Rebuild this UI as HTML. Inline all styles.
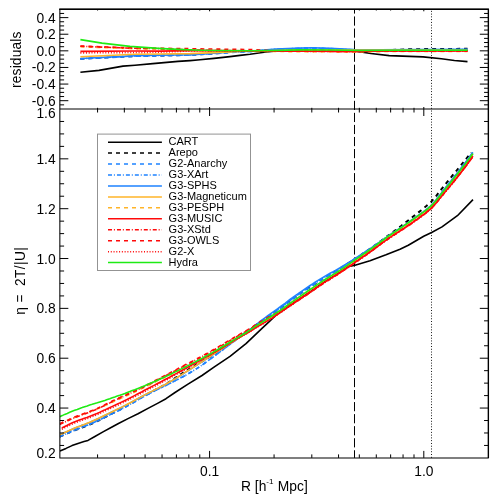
<!DOCTYPE html>
<html><head><meta charset="utf-8"><title>chart</title>
<style>
html,body{margin:0;padding:0;background:#fff;}
body{width:498px;height:498px;overflow:hidden;position:relative;font-family:"Liberation Sans",sans-serif;}
svg text{font-family:"Liberation Sans",sans-serif;}
svg{will-change:opacity;}
</style></head><body>
<svg width="498" height="498" viewBox="0 0 498 498" style="position:absolute;left:0;top:0">
<defs><clipPath id="cm"><rect x="59.9" y="109.0" width="428.4" height="348.9"/></clipPath>
<clipPath id="cr"><rect x="59.9" y="9.3" width="428.4" height="99.7"/></clipPath></defs>
<path d="M354.5 9.3 V457.9" stroke="#000" stroke-width="1.0" stroke-dasharray="9.2 2.85" stroke-dashoffset="4.9" fill="none"/>
<path d="M431.5 9.3 V457.9" stroke="#000" stroke-width="1" stroke-dasharray="0.9 1.87" stroke-dashoffset="1.2" fill="none"/>
<g clip-path="url(#cr)">
<path d="M80.4 72.2 L99.0 70.4 L123.0 66.1 L135.0 65.2 L152.8 63.6 L178.0 61.4 L190.0 60.6 L200.0 59.8 L214.0 58.4 L230.0 56.6 L240.0 55.4 L250.0 54.3 L264.0 52.2 L276.0 50.9 L300.0 50.6 L354.0 50.9 L370.9 53.5 L389.2 55.6 L423.1 56.9 L441.4 58.7 L454.4 60.5 L467.5 61.6" fill="none" stroke="#000" stroke-width="1.6" stroke-linejoin="round"/>
<path d="M80.4 58.9 L135.0 56.2 L160.0 55.7 L190.0 55.1 L214.0 53.6 L235.0 52.0 L250.0 51.2 L276.0 50.0 L300.0 49.6 L354.0 50.0 L390.0 49.9 L410.0 49.0 L467.5 48.6" fill="none" stroke="#000" stroke-width="1.6" stroke-dasharray="4 4" stroke-linejoin="round"/>
<path d="M80.4 59.0 L135.0 56.3 L160.0 55.8 L190.0 55.2 L214.0 53.7 L235.0 52.3 L250.0 51.7 L264.0 50.6 L276.0 49.6 L300.0 48.6 L312.0 48.2 L330.0 48.9 L354.0 50.1 L380.0 50.3 L420.0 50.1 L467.5 49.9" fill="none" stroke="#1e82ff" stroke-width="1.6" stroke-dasharray="4 4" stroke-linejoin="round"/>
<path d="M80.4 58.7 L135.0 56.0 L160.0 55.5 L190.0 54.9 L214.0 53.4 L235.0 52.0 L250.0 51.4 L264.0 50.3 L276.0 49.3 L300.0 48.3 L312.0 47.9 L330.0 48.6 L354.0 49.8 L380.0 50.0 L420.0 49.8 L467.5 49.6" fill="none" stroke="#1e82ff" stroke-width="1.6" stroke-dasharray="4 1.9 1 2.05" stroke-linejoin="round"/>
<path d="M80.4 58.5 L135.0 55.8 L160.0 55.3 L190.0 54.7 L214.0 53.2 L235.0 51.8 L250.0 51.2 L264.0 50.1 L276.0 49.1 L300.0 48.1 L312.0 47.7 L330.0 48.4 L354.0 49.6 L380.0 49.8 L420.0 49.6 L467.5 49.4" fill="none" stroke="#1e82ff" stroke-width="1.6" stroke-linejoin="round"/>
<path d="M80.4 56.7 L135.0 54.3 L160.0 54.0 L190.0 53.6 L214.0 52.6 L235.0 51.6 L250.0 51.0 L276.0 50.6 L300.0 50.0 L467.5 50.3" fill="none" stroke="#ffb428" stroke-width="1.6" stroke-linejoin="round"/>
<path d="M80.4 46.8 L135.0 48.8 L160.0 49.1 L185.0 50.2 L214.0 51.0 L250.0 51.3 L276.0 51.5 L300.0 51.7 L354.0 51.9 L400.0 51.4 L467.5 51.4" fill="none" stroke="#ffb428" stroke-width="1.6" stroke-dasharray="4 4" stroke-linejoin="round"/>
<path d="M80.4 51.4 L135.0 51.0 L160.0 51.1 L190.0 50.6 L214.0 50.6 L250.0 50.8 L276.0 51.0 L300.0 51.2 L354.0 51.4 L400.0 50.9 L467.5 50.9" fill="none" stroke="#ff0a0a" stroke-width="1.6" stroke-linejoin="round"/>
<path d="M80.4 46.3 L135.0 48.3 L160.0 48.6 L185.0 49.7 L214.0 50.5 L250.0 50.8 L276.0 51.0 L300.0 51.2 L354.0 51.4 L400.0 50.9 L467.5 50.9" fill="none" stroke="#ff0a0a" stroke-width="1.6" stroke-dasharray="4 1.9 1 2.05" stroke-linejoin="round"/>
<path d="M80.4 46.0 L135.0 48.0 L178.0 48.5 L214.0 49.1 L250.0 49.5 L276.0 51.0 L300.0 51.2 L354.0 51.4 L400.0 50.9 L467.5 50.9" fill="none" stroke="#ff0a0a" stroke-width="1.6" stroke-dasharray="4 4" stroke-linejoin="round"/>
<path d="M80.4 52.9 L135.0 52.5 L160.0 52.2 L180.0 51.4 L200.0 50.8 L250.0 51.0 L276.0 51.1 L300.0 51.3 L354.0 51.5 L400.0 51.0 L467.5 51.0" fill="none" stroke="#ff0a0a" stroke-width="1.6" stroke-dasharray="1 1.77" stroke-linejoin="round"/>
<path d="M80.4 39.6 L102.0 43.1 L130.0 46.4 L158.0 48.4 L178.0 49.4 L200.0 50.2 L214.0 50.5 L250.0 50.8 L276.0 50.5 L300.0 49.9 L330.0 50.0 L360.0 50.5 L400.0 50.2 L467.5 50.2" fill="none" stroke="#1eeb14" stroke-width="1.6" stroke-linejoin="round"/>
</g>
<g clip-path="url(#cm)">
<path d="M59.9 451.0 L66.0 448.4 L72.0 445.6 L78.0 443.4 L84.0 441.5 L88.0 440.4 L94.0 437.0 L103.0 431.9 L112.0 427.0 L118.0 423.8 L128.0 418.6 L138.0 413.8 L148.0 408.4 L158.0 403.1 L166.0 398.7 L175.0 392.5 L188.0 384.1 L202.0 375.5 L214.0 367.2 L230.0 356.4 L246.0 343.7 L262.0 328.4 L270.0 320.9 L276.0 315.2 L292.0 304.0 L310.0 292.0 L325.0 281.4 L340.0 271.9 L348.0 266.6 L355.0 265.2 L370.0 260.7 L386.0 254.8 L400.0 249.2 L408.3 245.2 L423.7 236.2 L431.6 232.5 L442.0 226.9 L457.4 215.7 L473.0 199.6" fill="none" stroke="#000" stroke-width="1.6" stroke-linejoin="round"/>
<path d="M59.7 436.6 L62.2 435.5 L64.7 434.4 L67.2 433.3 L69.7 432.3 L72.2 431.3 L74.7 430.3 L77.2 429.4 L79.7 428.4 L82.1 427.5 L84.6 426.6 L87.1 425.6 L89.6 424.6 L92.1 423.5 L94.6 422.4 L97.1 421.2 L99.6 420.0 L102.1 418.7 L104.6 417.4 L107.1 416.1 L109.6 414.8 L112.1 413.5 L114.6 412.2 L117.1 410.9 L119.6 409.6 L122.0 408.3 L124.5 406.9 L127.0 405.5 L129.5 404.1 L132.0 402.7 L134.5 401.3 L137.0 399.9 L139.5 398.4 L142.0 397.0 L144.5 395.6 L147.0 394.3 L149.5 392.9 L152.0 391.6 L154.5 390.3 L157.0 389.0 L159.5 387.7 L162.0 386.3 L164.4 384.9 L166.9 383.4 L169.4 381.9 L171.9 380.3 L174.4 378.6 L176.9 376.9 L179.4 375.3 L181.9 373.6 L184.4 372.0 L186.9 370.4 L189.4 368.9 L191.9 367.4 L194.4 365.9 L196.9 364.4 L199.4 363.0 L201.9 361.5 L204.3 360.1 L206.8 358.6 L209.3 357.1 L211.8 355.5 L214.3 354.0 L216.8 352.4 L219.3 350.7 L221.8 349.1 L224.3 347.4 L226.8 345.7 L229.3 343.9 L231.8 342.2 L234.3 340.4 L236.8 338.7 L239.3 337.0 L241.8 335.3 L244.3 333.6 L246.7 331.9 L249.2 330.2 L251.7 328.3 L254.2 326.4 L256.7 324.6 L259.2 322.8 L261.7 321.1 L264.2 319.4 L266.7 317.6 L269.2 315.9 L271.7 314.2 L274.2 312.4 L276.7 310.7 L279.2 308.9 L281.7 307.1 L284.2 305.3 L286.6 303.4 L289.1 301.6 L291.6 299.8 L294.1 298.0 L296.6 296.2 L299.1 294.5 L301.6 292.7 L304.1 291.0 L306.6 289.3 L309.1 287.6 L311.6 286.0 L314.1 284.4 L316.6 282.7 L319.1 281.1 L321.6 279.6 L324.1 278.0 L326.6 276.5 L329.0 275.0 L331.5 273.5 L334.0 272.1 L336.5 270.7 L339.0 269.2 L341.5 267.6 L344.0 266.0 L346.5 264.4 L349.0 262.8 L351.5 261.1 L354.0 259.5 L356.5 257.8 L359.0 256.2 L361.5 254.5 L364.0 252.9 L366.5 251.2 L368.9 249.6 L371.4 247.8 L373.9 246.1 L376.4 244.3 L378.9 242.4 L381.4 240.6 L383.9 238.7 L386.4 236.9 L388.9 235.1 L391.4 233.2 L393.9 231.4 L396.4 229.5 L398.9 227.6 L401.4 225.7 L403.9 223.7 L406.4 221.8 L408.9 219.9 L411.3 218.0 L413.8 216.0 L416.3 214.0 L418.8 212.1 L421.3 210.2 L423.8 208.2 L426.3 206.1 L428.8 203.9 L431.3 201.6 L433.8 198.9 L436.3 195.8 L438.8 192.6 L441.3 189.4 L443.8 186.3 L446.3 183.2 L448.8 180.1 L451.2 177.1 L453.7 174.0 L456.2 171.0 L458.7 167.9 L461.2 164.9 L463.7 161.9 L466.2 158.8 L468.7 155.7 L471.2 152.5" fill="none" stroke="#000" stroke-width="1.95" stroke-dasharray="4 4" stroke-linejoin="round"/>
<path d="M59.7 436.6 L62.2 435.5 L64.7 434.5 L67.2 433.4 L69.7 432.3 L72.2 431.3 L74.7 430.3 L77.2 429.2 L79.7 428.3 L82.2 427.3 L84.7 426.3 L87.2 425.3 L89.7 424.3 L92.2 423.2 L94.8 422.1 L97.3 421.0 L99.8 419.8 L102.3 418.5 L104.8 417.3 L107.3 416.1 L109.8 414.9 L112.3 413.6 L114.8 412.4 L117.3 411.2 L119.8 410.0 L122.3 408.7 L124.8 407.4 L127.3 406.0 L129.8 404.6 L132.3 403.2 L134.8 401.8 L137.3 400.3 L139.8 398.8 L142.3 397.4 L144.8 396.0 L147.3 394.7 L149.8 393.4 L152.3 392.1 L154.8 390.8 L157.3 389.6 L159.8 388.4 L162.3 387.1 L164.9 385.9 L167.4 384.7 L169.9 383.4 L172.4 382.2 L174.9 380.9 L177.4 379.6 L179.9 378.3 L182.4 377.0 L184.9 375.7 L187.4 374.3 L189.9 372.8 L192.4 371.3 L194.9 369.8 L197.4 368.2 L199.9 366.5 L202.4 364.8 L204.9 363.0 L207.4 361.2 L209.9 359.4 L212.4 357.5 L214.9 355.7 L217.4 353.8 L219.9 351.9 L222.4 350.0 L224.9 348.1 L227.4 346.3 L229.9 344.4 L232.5 342.5 L235.0 340.6 L237.5 338.7 L240.0 336.9 L242.5 335.1 L245.0 333.4 L247.5 331.6 L250.0 329.8 L252.5 328.0 L255.0 326.1 L257.5 324.3 L260.0 322.7 L262.5 321.0 L265.0 319.3 L267.5 317.6 L270.0 315.9 L272.5 314.1 L275.0 312.3 L277.5 310.5 L280.0 308.7 L282.5 306.8 L285.0 305.0 L287.5 303.1 L290.0 301.2 L292.5 299.4 L295.0 297.5 L297.5 295.8 L300.0 294.0 L302.6 292.3 L305.1 290.6 L307.6 288.9 L310.1 287.2 L312.6 285.6 L315.1 283.9 L317.6 282.4 L320.1 280.8 L322.6 279.3 L325.1 277.8 L327.6 276.4 L330.1 275.1 L332.6 273.7 L335.1 272.3 L337.6 270.8 L340.1 269.3 L342.6 267.6 L345.1 265.9 L347.6 264.1 L350.1 262.3 L352.6 260.5 L355.1 258.7 L357.6 257.0 L360.1 255.3 L362.6 253.6 L365.1 252.0 L367.6 250.3 L370.2 248.7 L372.7 247.0 L375.2 245.2 L377.7 243.4 L380.2 241.7 L382.7 239.9 L385.2 238.1 L387.7 236.4 L390.2 234.7 L392.7 233.0 L395.2 231.4 L397.7 229.7 L400.2 228.0 L402.7 226.3 L405.2 224.6 L407.7 222.9 L410.2 221.2 L412.7 219.4 L415.2 217.6 L417.7 215.9 L420.2 214.1 L422.7 212.4 L425.2 210.5 L427.7 208.5 L430.2 206.3 L432.7 203.8 L435.2 200.9 L437.7 197.8 L440.3 194.5 L442.8 191.2 L445.3 188.1 L447.8 185.0 L450.3 181.8 L452.8 178.7 L455.3 175.5 L457.8 172.4 L460.3 169.2 L462.8 165.9 L465.3 162.7 L467.8 159.4 L470.3 156.0 L472.8 152.5" fill="none" stroke="#1e82ff" stroke-width="1.6" stroke-dasharray="4 4" stroke-linejoin="round"/>
<path d="M59.7 436.6 L62.2 435.5 L64.7 434.5 L67.2 433.4 L69.7 432.3 L72.2 431.3 L74.7 430.3 L77.2 429.2 L79.7 428.3 L82.2 427.3 L84.7 426.3 L87.2 425.3 L89.7 424.3 L92.2 423.2 L94.8 422.1 L97.3 421.0 L99.8 419.8 L102.3 418.5 L104.8 417.3 L107.3 416.1 L109.8 414.9 L112.3 413.6 L114.8 412.4 L117.3 411.2 L119.8 410.0 L122.3 408.7 L124.8 407.4 L127.3 406.0 L129.8 404.6 L132.3 403.2 L134.8 401.8 L137.3 400.3 L139.8 398.8 L142.3 397.4 L144.8 396.0 L147.3 394.7 L149.8 393.4 L152.3 392.1 L154.8 390.8 L157.3 389.6 L159.8 388.4 L162.3 387.1 L164.9 385.9 L167.4 384.7 L169.9 383.4 L172.4 382.2 L174.9 380.9 L177.4 379.6 L179.9 378.3 L182.4 377.0 L184.9 375.7 L187.4 374.3 L189.9 372.8 L192.4 371.3 L194.9 369.8 L197.4 368.2 L199.9 366.5 L202.4 364.8 L204.9 363.0 L207.4 361.2 L209.9 359.4 L212.4 357.5 L214.9 355.7 L217.4 353.8 L219.9 351.9 L222.4 350.0 L224.9 348.1 L227.4 346.3 L229.9 344.4 L232.5 342.5 L235.0 340.6 L237.5 338.8 L240.0 337.0 L242.5 335.2 L245.0 333.4 L247.5 331.6 L250.0 329.7 L252.5 327.8 L255.0 325.8 L257.5 324.0 L260.0 322.2 L262.5 320.5 L265.0 318.7 L267.5 316.9 L270.0 315.2 L272.5 313.4 L275.0 311.6 L277.5 309.8 L280.0 308.0 L282.5 306.1 L285.0 304.3 L287.5 302.4 L290.0 300.5 L292.5 298.7 L295.0 296.8 L297.5 295.1 L300.0 293.3 L302.6 291.6 L305.1 289.9 L307.6 288.2 L310.1 286.5 L312.6 284.9 L315.1 283.2 L317.6 281.7 L320.1 280.1 L322.6 278.6 L325.1 277.1 L327.6 275.7 L330.1 274.4 L332.6 273.0 L335.1 271.6 L337.6 270.2 L340.1 268.7 L342.6 267.1 L345.1 265.4 L347.6 263.7 L350.1 262.0 L352.6 260.3 L355.1 258.6 L357.6 256.9 L360.1 255.3 L362.6 253.6 L365.1 252.0 L367.6 250.3 L370.2 248.7 L372.7 247.0 L375.2 245.2 L377.7 243.4 L380.2 241.7 L382.7 239.9 L385.2 238.1 L387.7 236.4 L390.2 234.7 L392.7 233.0 L395.2 231.4 L397.7 229.7 L400.2 228.0 L402.7 226.3 L405.2 224.6 L407.7 222.9 L410.2 221.2 L412.7 219.4 L415.2 217.6 L417.7 215.9 L420.2 214.1 L422.7 212.4 L425.2 210.5 L427.7 208.5 L430.2 206.3 L432.7 203.8 L435.2 200.9 L437.7 197.8 L440.3 194.5 L442.8 191.2 L445.3 188.1 L447.8 185.0 L450.3 181.8 L452.8 178.7 L455.3 175.5 L457.8 172.4 L460.3 169.2 L462.8 165.9 L465.3 162.7 L467.8 159.4 L470.3 156.0 L472.8 152.5" fill="none" stroke="#1e82ff" stroke-width="1.6" stroke-dasharray="4 1.9 1 2.05" stroke-linejoin="round"/>
<path d="M59.7 434.9 L62.2 433.8 L64.7 432.6 L67.2 431.5 L69.7 430.4 L72.2 429.3 L74.7 428.2 L77.2 427.2 L79.7 426.3 L82.2 425.3 L84.7 424.4 L87.2 423.4 L89.7 422.4 L92.2 421.3 L94.8 420.2 L97.3 419.1 L99.8 417.9 L102.3 416.6 L104.8 415.4 L107.3 414.2 L109.8 413.0 L112.3 411.8 L114.8 410.6 L117.3 409.4 L119.8 408.2 L122.3 407.0 L124.8 405.7 L127.3 404.4 L129.8 403.1 L132.3 401.8 L134.8 400.4 L137.3 399.0 L139.8 397.7 L142.3 396.3 L144.8 395.0 L147.3 393.7 L149.8 392.4 L152.3 391.2 L154.8 389.9 L157.3 388.7 L159.8 387.4 L162.3 386.1 L164.9 384.8 L167.4 383.4 L169.9 381.9 L172.4 380.5 L174.9 379.0 L177.4 377.4 L179.9 375.9 L182.4 374.3 L184.9 372.7 L187.4 371.1 L189.9 369.5 L192.4 367.9 L194.9 366.4 L197.4 364.7 L199.9 363.1 L202.4 361.5 L204.9 359.9 L207.4 358.3 L209.9 356.6 L212.4 355.0 L214.9 353.4 L217.4 351.8 L219.9 350.2 L222.4 348.6 L224.9 347.0 L227.4 345.4 L229.9 343.7 L232.5 342.0 L235.0 340.3 L237.5 338.6 L240.0 336.9 L242.5 335.1 L245.0 333.3 L247.5 331.5 L250.0 329.6 L252.5 327.5 L255.0 325.4 L257.5 323.5 L260.0 321.5 L262.5 319.7 L265.0 317.8 L267.5 316.0 L270.0 314.2 L272.5 312.4 L275.0 310.6 L277.5 308.8 L280.0 307.0 L282.5 305.1 L285.0 303.3 L287.5 301.4 L290.0 299.5 L292.5 297.7 L295.0 295.8 L297.5 294.1 L300.0 292.3 L302.6 290.6 L305.1 288.9 L307.6 287.2 L310.1 285.5 L312.6 283.9 L315.1 282.2 L317.6 280.7 L320.1 279.1 L322.6 277.6 L325.1 276.1 L327.6 274.7 L330.1 273.3 L332.6 272.0 L335.1 270.6 L337.6 269.2 L340.1 267.8 L342.6 266.3 L345.1 264.8 L347.6 263.3 L350.1 261.7 L352.6 260.1 L355.1 258.5 L357.6 256.9 L360.1 255.3 L362.6 253.7 L365.1 252.0 L367.6 250.4 L370.2 248.7 L372.7 247.0 L375.2 245.2 L377.7 243.4 L380.2 241.7 L382.7 239.9 L385.2 238.1 L387.7 236.4 L390.2 234.7 L392.7 233.0 L395.2 231.4 L397.7 229.7 L400.2 228.0 L402.7 226.3 L405.2 224.6 L407.7 222.9 L410.2 221.2 L412.7 219.4 L415.2 217.6 L417.7 215.9 L420.2 214.1 L422.7 212.4 L425.2 210.5 L427.7 208.5 L430.2 206.3 L432.7 203.8 L435.2 200.9 L437.7 197.8 L440.3 194.5 L442.8 191.2 L445.3 188.1 L447.8 185.0 L450.3 181.8 L452.8 178.7 L455.3 175.5 L457.8 172.4 L460.3 169.2 L462.8 165.9 L465.3 162.7 L467.8 159.4 L470.3 156.0 L472.8 152.5" fill="none" stroke="#1e82ff" stroke-width="1.6" stroke-linejoin="round"/>
<path d="M59.7 434.8 L62.2 433.7 L64.7 432.5 L67.2 431.4 L69.7 430.3 L72.2 429.2 L74.7 428.1 L77.2 427.1 L79.7 426.2 L82.2 425.2 L84.7 424.3 L87.2 423.3 L89.7 422.3 L92.2 421.2 L94.8 420.1 L97.3 419.0 L99.8 417.8 L102.3 416.5 L104.8 415.3 L107.3 414.1 L109.8 412.9 L112.3 411.7 L114.8 410.5 L117.3 409.3 L119.8 408.1 L122.3 406.9 L124.8 405.6 L127.3 404.3 L129.8 403.0 L132.3 401.7 L134.8 400.3 L137.3 398.9 L139.8 397.6 L142.3 396.2 L144.8 394.9 L147.3 393.6 L149.8 392.3 L152.3 391.1 L154.8 389.8 L157.3 388.6 L159.8 387.3 L162.3 386.0 L164.9 384.7 L167.4 383.3 L169.9 381.8 L172.4 380.4 L174.9 378.9 L177.4 377.3 L179.9 375.8 L182.4 374.2 L184.9 372.6 L187.4 371.0 L189.9 369.4 L192.4 367.8 L194.9 366.3 L197.4 364.6 L199.9 363.0 L202.4 361.4 L204.9 359.8 L207.4 358.2 L209.9 356.5 L212.4 354.9 L214.9 353.3 L217.4 351.7 L219.9 350.1 L222.4 348.5 L224.9 346.9 L227.4 345.2 L229.9 343.6 L232.5 342.0 L235.0 340.4 L237.5 338.8 L240.0 337.2 L242.5 335.7 L245.0 334.1 L247.5 332.5 L250.0 330.9 L252.5 329.1 L255.0 327.3 L257.5 325.6 L260.0 323.9 L262.5 322.3 L265.0 320.7 L267.5 319.0 L270.0 317.4 L272.5 315.8 L275.0 314.1 L277.5 312.5 L280.0 310.8 L282.5 309.1 L285.0 307.3 L287.5 305.5 L290.0 303.7 L292.5 301.9 L295.0 300.2 L297.5 298.4 L300.0 296.7 L302.6 294.9 L305.1 293.2 L307.6 291.5 L310.1 289.8 L312.6 288.1 L315.1 286.4 L317.6 284.7 L320.1 283.1 L322.6 281.5 L325.1 279.8 L327.6 278.3 L330.1 276.7 L332.6 275.2 L335.1 273.7 L337.6 272.1 L340.1 270.5 L342.6 268.9 L345.1 267.2 L347.6 265.4 L350.1 263.7 L352.6 261.9 L355.1 260.2 L357.6 258.5 L360.1 256.8 L362.6 255.0 L365.1 253.3 L367.6 251.6 L370.2 249.8 L372.7 248.0 L375.2 246.1 L377.7 244.3 L380.2 242.4 L382.7 240.6 L385.2 238.8 L387.7 237.0 L390.2 235.3 L392.7 233.6 L395.2 232.0 L397.7 230.3 L400.2 228.6 L402.7 226.9 L405.2 225.2 L407.7 223.5 L410.2 221.8 L412.7 220.0 L415.2 218.2 L417.7 216.5 L420.2 214.7 L422.7 213.0 L425.2 211.1 L427.7 209.2 L430.2 207.0 L432.7 204.6 L435.2 201.8 L437.7 198.7 L440.3 195.5 L442.8 192.4 L445.3 189.3 L447.8 186.2 L450.3 183.2 L452.8 180.1 L455.3 176.9 L457.8 173.8 L460.3 170.6 L462.8 167.4 L465.3 164.2 L467.8 160.8 L470.3 157.4 L472.8 154.0" fill="none" stroke="#ffb428" stroke-width="1.6" stroke-linejoin="round"/>
<path d="M59.7 424.1 L62.2 422.9 L64.7 421.8 L67.2 420.7 L69.7 419.5 L72.2 418.4 L74.7 417.4 L77.2 416.4 L79.7 415.5 L82.2 414.5 L84.7 413.6 L87.2 412.7 L89.7 411.8 L92.2 410.8 L94.8 409.8 L97.3 408.8 L99.8 407.7 L102.3 406.6 L104.8 405.5 L107.3 404.4 L109.8 403.3 L112.3 402.2 L114.8 401.1 L117.3 400.0 L119.8 398.9 L122.3 397.7 L124.8 396.6 L127.3 395.4 L129.8 394.3 L132.3 393.1 L134.8 392.0 L137.3 390.8 L139.8 389.6 L142.3 388.4 L144.8 387.2 L147.3 386.0 L149.8 384.7 L152.3 383.5 L154.8 382.2 L157.3 380.9 L159.8 379.7 L162.3 378.5 L164.9 377.2 L167.4 376.0 L169.9 374.8 L172.4 373.6 L174.9 372.4 L177.4 371.2 L179.9 369.9 L182.4 368.7 L184.9 367.5 L187.4 366.2 L189.9 364.9 L192.4 363.7 L194.9 362.4 L197.4 361.1 L199.9 359.8 L202.4 358.4 L204.9 357.0 L207.4 355.7 L209.9 354.3 L212.4 352.9 L214.9 351.4 L217.4 350.0 L219.9 348.5 L222.4 347.0 L224.9 345.5 L227.4 344.0 L229.9 342.5 L232.5 341.0 L235.0 339.4 L237.5 337.9 L240.0 336.5 L242.5 335.0 L245.0 333.5 L247.5 332.0 L250.0 330.4 L252.5 328.7 L255.0 327.0 L257.5 325.3 L260.0 323.7 L262.5 322.2 L265.0 320.6 L267.5 319.0 L270.0 317.4 L272.5 315.8 L275.0 314.1 L277.5 312.5 L280.0 310.8 L282.5 309.1 L285.0 307.3 L287.5 305.5 L290.0 303.7 L292.5 301.9 L295.0 300.2 L297.5 298.4 L300.0 296.7 L302.6 294.9 L305.1 293.2 L307.6 291.5 L310.1 289.8 L312.6 288.1 L315.1 286.4 L317.6 284.7 L320.1 283.1 L322.6 281.5 L325.1 279.8 L327.6 278.3 L330.1 276.7 L332.6 275.2 L335.1 273.7 L337.6 272.1 L340.1 270.5 L342.6 268.9 L345.1 267.2 L347.6 265.4 L350.1 263.7 L352.6 261.9 L355.1 260.2 L357.6 258.5 L360.1 256.8 L362.6 255.0 L365.1 253.3 L367.6 251.6 L370.2 249.8 L372.7 248.0 L375.2 246.1 L377.7 244.3 L380.2 242.4 L382.7 240.6 L385.2 238.8 L387.7 237.0 L390.2 235.3 L392.7 233.6 L395.2 232.0 L397.7 230.3 L400.2 228.6 L402.7 226.9 L405.2 225.2 L407.7 223.5 L410.2 221.8 L412.7 220.0 L415.2 218.2 L417.7 216.5 L420.2 214.7 L422.7 213.0 L425.2 211.1 L427.7 209.2 L430.2 207.0 L432.7 204.6 L435.2 201.8 L437.7 198.7 L440.3 195.5 L442.8 192.4 L445.3 189.3 L447.8 186.2 L450.3 183.2 L452.8 180.1 L455.3 176.9 L457.8 173.8 L460.3 170.6 L462.8 167.4 L465.3 164.2 L467.8 160.8 L470.3 157.4 L472.8 154.0" fill="none" stroke="#ffb428" stroke-width="1.6" stroke-dasharray="4 4" stroke-linejoin="round"/>
<path d="M61.8 428.0 L64.3 426.7 L66.8 425.5 L69.3 424.2 L71.8 423.1 L74.3 422.0 L76.8 421.0 L79.3 420.1 L81.8 419.2 L84.4 418.3 L86.9 417.5 L89.4 416.5 L91.9 415.5 L94.4 414.5 L96.9 413.5 L99.4 412.4 L101.9 411.2 L104.4 410.1 L106.9 408.9 L109.4 407.8 L111.9 406.6 L114.4 405.4 L116.9 404.3 L119.4 403.1 L121.9 401.9 L124.5 400.7 L127.0 399.5 L129.5 398.2 L132.0 396.9 L134.5 395.6 L137.0 394.3 L139.5 393.0 L142.0 391.7 L144.5 390.3 L147.0 389.0 L149.5 387.7 L152.0 386.4 L154.5 385.1 L157.0 383.8 L159.5 382.5 L162.0 381.2 L164.6 379.8 L167.1 378.5 L169.6 377.2 L172.1 375.8 L174.6 374.4 L177.1 373.1 L179.6 371.7 L182.1 370.3 L184.6 369.0 L187.1 367.6 L189.6 366.2 L192.1 364.9 L194.6 363.5 L197.1 362.1 L199.6 360.7 L202.1 359.3 L204.6 357.9 L207.2 356.4 L209.7 355.0 L212.2 353.6 L214.7 352.1 L217.2 350.7 L219.7 349.2 L222.2 347.7 L224.7 346.2 L227.2 344.7 L229.7 343.2 L232.2 341.6 L234.7 340.1 L237.2 338.6 L239.7 337.2 L242.2 335.8 L244.7 334.4 L247.3 333.0 L249.8 331.5 L252.3 330.0 L254.8 328.3 L257.3 326.8 L259.8 325.4 L262.3 323.9 L264.8 322.4 L267.3 320.9 L269.8 319.4 L272.3 317.8 L274.8 316.2 L277.3 314.5 L279.8 312.9 L282.3 311.2 L284.8 309.4 L287.3 307.7 L289.9 305.9 L292.4 304.2 L294.9 302.4 L297.4 300.7 L299.9 299.0 L302.4 297.3 L304.9 295.6 L307.4 294.0 L309.9 292.3 L312.4 290.6 L314.9 288.9 L317.4 287.1 L319.9 285.4 L322.4 283.7 L324.9 282.1 L327.4 280.4 L330.0 278.9 L332.5 277.3 L335.0 275.7 L337.5 274.2 L340.0 272.6 L342.5 270.9 L345.0 269.2 L347.5 267.5 L350.0 265.8 L352.5 264.1 L355.0 262.4 L357.5 260.6 L360.0 258.9 L362.5 257.2 L365.0 255.4 L367.5 253.7 L370.1 251.9 L372.6 250.0 L375.1 248.2 L377.6 246.3 L380.1 244.4 L382.6 242.6 L385.1 240.8 L387.6 239.0 L390.1 237.4 L392.6 235.7 L395.1 234.1 L397.6 232.4 L400.1 230.8 L402.6 229.1 L405.1 227.5 L407.6 225.8 L410.1 224.1 L412.7 222.4 L415.2 220.6 L417.7 218.8 L420.2 217.0 L422.7 215.2 L425.2 213.3 L427.7 211.3 L430.2 209.1 L432.7 206.7 L435.2 203.9 L437.7 200.9 L440.2 197.8 L442.7 194.7 L445.2 191.7 L447.7 188.7 L450.2 185.7 L452.8 182.7 L455.3 179.6 L457.8 176.4 L460.3 173.2 L462.8 170.0 L465.3 166.7 L467.8 163.3 L470.3 159.8 L472.8 156.3" fill="none" stroke="#ff0a0a" stroke-width="1.6" stroke-linejoin="round"/>
<path d="M59.7 424.4 L62.2 423.2 L64.7 422.1 L67.2 421.0 L69.7 419.8 L72.2 418.7 L74.7 417.7 L77.2 416.7 L79.7 415.8 L82.2 414.8 L84.7 413.9 L87.2 413.0 L89.7 412.1 L92.2 411.1 L94.8 410.1 L97.3 409.0 L99.8 407.8 L102.3 406.6 L104.8 405.4 L107.3 404.1 L109.8 402.9 L112.3 401.6 L114.8 400.4 L117.3 399.2 L119.8 398.1 L122.3 396.9 L124.8 395.8 L127.3 394.6 L129.8 393.5 L132.3 392.3 L134.8 391.2 L137.3 390.0 L139.8 388.8 L142.3 387.7 L144.8 386.4 L147.3 385.2 L149.8 384.0 L152.3 382.7 L154.8 381.4 L157.3 380.1 L159.8 378.8 L162.3 377.5 L164.9 376.1 L167.4 374.8 L169.9 373.5 L172.4 372.2 L174.9 370.9 L177.4 369.6 L179.9 368.2 L182.4 366.9 L184.9 365.6 L187.4 364.3 L189.9 363.0 L192.4 361.8 L194.9 360.4 L197.4 359.1 L199.9 357.8 L202.4 356.4 L204.9 355.1 L207.4 353.7 L209.9 352.3 L212.4 350.9 L214.9 349.5 L217.4 348.0 L219.9 346.5 L222.4 345.1 L224.9 343.6 L227.4 342.1 L229.9 340.6 L232.5 339.1 L235.0 337.6 L237.5 336.1 L240.0 334.7 L242.5 333.3 L245.0 331.9 L247.5 330.5 L250.0 329.0 L252.5 327.4 L255.0 325.7 L257.5 324.1 L260.0 322.6 L262.5 321.2 L265.0 319.7 L267.5 318.3 L270.0 316.9 L272.5 315.5 L275.0 314.2 L277.5 312.8 L280.0 311.4 L282.5 310.0 L285.0 308.6 L287.5 307.1 L290.0 305.6 L292.5 304.1 L295.0 302.5 L297.5 300.9 L300.0 299.3 L302.6 297.6 L305.1 296.0 L307.6 294.3 L310.1 292.6 L312.6 290.9 L315.1 289.2 L317.6 287.4 L320.1 285.7 L322.6 284.0 L325.1 282.4 L327.6 280.7 L330.1 279.2 L332.6 277.6 L335.1 276.1 L337.6 274.5 L340.1 272.9 L342.6 271.2 L345.1 269.5 L347.6 267.8 L350.1 266.1 L352.6 264.4 L355.1 262.7 L357.6 261.0 L360.1 259.2 L362.6 257.5 L365.1 255.8 L367.6 254.0 L370.2 252.2 L372.7 250.4 L375.2 248.5 L377.7 246.6 L380.2 244.7 L382.7 242.9 L385.2 241.1 L387.7 239.4 L390.2 237.7 L392.7 236.0 L395.2 234.4 L397.7 232.8 L400.2 231.1 L402.7 229.5 L405.2 227.8 L407.7 226.2 L410.2 224.5 L412.7 222.8 L415.2 221.0 L417.7 219.2 L420.2 217.4 L422.7 215.6 L425.2 213.7 L427.7 211.7 L430.2 209.5 L432.7 207.1 L435.2 204.3 L437.7 201.3 L440.3 198.2 L442.8 195.1 L445.3 192.1 L447.8 189.1 L450.3 186.1 L452.8 183.1 L455.3 180.0 L457.8 176.8 L460.3 173.6 L462.8 170.4 L465.3 167.0 L467.8 163.7 L470.3 160.2 L472.8 156.7" fill="none" stroke="#ff0a0a" stroke-width="1.6" stroke-dasharray="4 1.9 1 2.05" stroke-linejoin="round"/>
<path d="M59.7 423.8 L62.2 422.6 L64.7 421.5 L67.2 420.4 L69.7 419.2 L72.2 418.1 L74.7 417.1 L77.2 416.1 L79.7 415.2 L82.2 414.2 L84.7 413.3 L87.2 412.4 L89.7 411.5 L92.2 410.5 L94.8 409.5 L97.3 408.4 L99.8 407.2 L102.3 406.0 L104.8 404.8 L107.3 403.5 L109.8 402.3 L112.3 401.0 L114.8 399.8 L117.3 398.6 L119.8 397.5 L122.3 396.3 L124.8 395.2 L127.3 394.0 L129.8 392.9 L132.3 391.7 L134.8 390.6 L137.3 389.4 L139.8 388.2 L142.3 387.1 L144.8 385.8 L147.3 384.6 L149.8 383.4 L152.3 382.1 L154.8 380.8 L157.3 379.5 L159.8 378.2 L162.3 376.9 L164.9 375.5 L167.4 374.2 L169.9 372.9 L172.4 371.6 L174.9 370.3 L177.4 369.0 L179.9 367.6 L182.4 366.3 L184.9 365.0 L187.4 363.7 L189.9 362.4 L192.4 361.2 L194.9 359.8 L197.4 358.5 L199.9 357.2 L202.4 355.8 L204.9 354.5 L207.4 353.1 L209.9 351.7 L212.4 350.3 L214.9 348.9 L217.4 347.4 L219.9 345.9 L222.4 344.5 L224.9 343.0 L227.4 341.5 L229.9 340.0 L232.5 338.5 L235.0 337.0 L237.5 335.5 L240.0 334.1 L242.5 332.7 L245.0 331.3 L247.5 329.9 L250.0 328.4 L252.5 326.8 L255.0 325.1 L257.5 323.5 L260.0 322.0 L262.5 320.6 L265.0 319.1 L267.5 317.7 L270.0 316.3 L272.5 314.9 L275.0 313.6 L277.5 312.2 L280.0 310.8 L282.5 309.4 L285.0 308.0 L287.5 306.5 L290.0 305.0 L292.5 303.5 L295.0 301.9 L297.5 300.3 L300.0 298.7 L302.6 297.0 L305.1 295.4 L307.6 293.7 L310.1 292.0 L312.6 290.3 L315.1 288.6 L317.6 286.8 L320.1 285.1 L322.6 283.4 L325.1 281.8 L327.6 280.1 L330.1 278.6 L332.6 277.0 L335.1 275.5 L337.6 273.9 L340.1 272.3 L342.6 270.6 L345.1 268.9 L347.6 267.2 L350.1 265.5 L352.6 263.8 L355.1 262.1 L357.6 260.4 L360.1 258.6 L362.6 256.9 L365.1 255.2 L367.6 253.4 L370.2 251.6 L372.7 249.8 L375.2 247.9 L377.7 246.0 L380.2 244.1 L382.7 242.3 L385.2 240.5 L387.7 238.8 L390.2 237.1 L392.7 235.4 L395.2 233.8 L397.7 232.2 L400.2 230.5 L402.7 228.9 L405.2 227.2 L407.7 225.6 L410.2 223.9 L412.7 222.2 L415.2 220.4 L417.7 218.6 L420.2 216.8 L422.7 215.0 L425.2 213.1 L427.7 211.1 L430.2 208.9 L432.7 206.5 L435.2 203.7 L437.7 200.7 L440.3 197.6 L442.8 194.5 L445.3 191.5 L447.8 188.5 L450.3 185.5 L452.8 182.5 L455.3 179.4 L457.8 176.2 L460.3 173.0 L462.8 169.8 L465.3 166.4 L467.8 163.1 L470.3 159.6 L472.8 156.1" fill="none" stroke="#ff0a0a" stroke-width="1.6" stroke-dasharray="4 4" stroke-linejoin="round"/>
<path d="M61.8 429.2 L64.3 427.9 L66.8 426.7 L69.3 425.4 L71.8 424.3 L74.3 423.2 L76.8 422.2 L79.3 421.3 L81.8 420.4 L84.4 419.5 L86.9 418.7 L89.4 417.7 L91.9 416.7 L94.4 415.7 L96.9 414.7 L99.4 413.6 L101.9 412.4 L104.4 411.3 L106.9 410.1 L109.4 409.0 L111.9 407.8 L114.4 406.7 L116.9 405.6 L119.4 404.4 L121.9 403.2 L124.5 402.0 L127.0 400.8 L129.5 399.5 L132.0 398.2 L134.5 396.9 L137.0 395.6 L139.5 394.3 L142.0 393.0 L144.5 391.7 L147.0 390.3 L149.5 389.0 L152.0 387.7 L154.5 386.4 L157.0 385.1 L159.5 383.7 L162.0 382.4 L164.6 381.0 L167.1 379.7 L169.6 378.3 L172.1 376.9 L174.6 375.4 L177.1 374.0 L179.6 372.6 L182.1 371.2 L184.6 369.8 L187.1 368.3 L189.6 366.9 L192.1 365.5 L194.6 364.1 L197.1 362.7 L199.6 361.3 L202.1 359.8 L204.6 358.4 L207.2 356.9 L209.7 355.5 L212.2 354.0 L214.7 352.5 L217.2 351.0 L219.7 349.6 L222.2 348.0 L224.7 346.5 L227.2 345.0 L229.7 343.5 L232.2 341.9 L234.7 340.4 L237.2 338.9 L239.7 337.5 L242.2 336.1 L244.7 334.7 L247.3 333.3 L249.8 331.8 L252.3 330.3 L254.8 328.6 L257.3 327.1 L259.8 325.7 L262.3 324.2 L264.8 322.7 L267.3 321.2 L269.8 319.7 L272.3 318.1 L274.8 316.5 L277.3 314.8 L279.8 313.2 L282.3 311.5 L284.8 309.7 L287.3 308.0 L289.9 306.2 L292.4 304.5 L294.9 302.7 L297.4 301.0 L299.9 299.3 L302.4 297.6 L304.9 295.9 L307.4 294.3 L309.9 292.6 L312.4 290.9 L314.9 289.2 L317.4 287.4 L319.9 285.7 L322.4 284.0 L324.9 282.4 L327.4 280.7 L330.0 279.2 L332.5 277.6 L335.0 276.0 L337.5 274.5 L340.0 272.9 L342.5 271.2 L345.0 269.5 L347.5 267.8 L350.0 266.1 L352.5 264.4 L355.0 262.7 L357.5 260.9 L360.0 259.2 L362.5 257.5 L365.0 255.7 L367.5 254.0 L370.1 252.2 L372.6 250.3 L375.1 248.5 L377.6 246.6 L380.1 244.7 L382.6 242.9 L385.1 241.1 L387.6 239.3 L390.1 237.7 L392.6 236.0 L395.1 234.4 L397.6 232.7 L400.1 231.1 L402.6 229.4 L405.1 227.8 L407.6 226.1 L410.1 224.4 L412.7 222.7 L415.2 220.9 L417.7 219.1 L420.2 217.3 L422.7 215.5 L425.2 213.6 L427.7 211.6 L430.2 209.4 L432.7 207.0 L435.2 204.2 L437.7 201.2 L440.2 198.1 L442.7 195.0 L445.2 192.0 L447.7 189.0 L450.2 186.0 L452.8 183.0 L455.3 179.9 L457.8 176.7 L460.3 173.5 L462.8 170.3 L465.3 167.0 L467.8 163.6 L470.3 160.1 L472.8 156.6" fill="none" stroke="#ff0a0a" stroke-width="1.6" stroke-dasharray="1 1.77" stroke-linejoin="round"/>
<path d="M59.7 416.7 L62.2 415.6 L64.7 414.4 L67.2 413.4 L69.7 412.3 L72.2 411.3 L74.7 410.3 L77.2 409.4 L79.7 408.4 L82.2 407.6 L84.7 406.7 L87.2 405.9 L89.7 405.0 L92.2 404.3 L94.8 403.5 L97.3 402.8 L99.8 402.0 L102.3 401.2 L104.8 400.4 L107.3 399.5 L109.8 398.7 L112.3 397.8 L114.8 397.0 L117.3 396.1 L119.8 395.3 L122.3 394.4 L124.8 393.5 L127.3 392.5 L129.8 391.6 L132.3 390.6 L134.8 389.7 L137.3 388.7 L139.8 387.7 L142.3 386.7 L144.8 385.7 L147.3 384.6 L149.8 383.6 L152.3 382.5 L154.8 381.4 L157.3 380.3 L159.8 379.2 L162.3 378.0 L164.9 376.9 L167.4 375.7 L169.9 374.5 L172.4 373.3 L174.9 372.1 L177.4 370.9 L179.9 369.6 L182.4 368.4 L184.9 367.2 L187.4 365.9 L189.9 364.6 L192.4 363.4 L194.9 362.1 L197.4 360.8 L199.9 359.5 L202.4 358.1 L204.9 356.7 L207.4 355.4 L209.9 354.0 L212.4 352.6 L214.9 351.1 L217.4 349.7 L219.9 348.2 L222.4 346.7 L224.9 345.2 L227.4 343.7 L229.9 342.2 L232.5 340.7 L235.0 339.1 L237.5 337.6 L240.0 336.2 L242.5 334.7 L245.0 333.2 L247.5 331.7 L250.0 330.1 L252.5 328.4 L255.0 326.7 L257.5 325.0 L260.0 323.4 L262.5 321.9 L265.0 320.3 L267.5 318.7 L270.0 317.1 L272.5 315.5 L275.0 313.8 L277.5 312.2 L280.0 310.5 L282.5 308.8 L285.0 307.0 L287.5 305.2 L290.0 303.4 L292.5 301.6 L295.0 299.9 L297.5 298.1 L300.0 296.4 L302.6 294.6 L305.1 292.9 L307.6 291.2 L310.1 289.5 L312.6 287.8 L315.1 286.1 L317.6 284.4 L320.1 282.8 L322.6 281.2 L325.1 279.5 L327.6 278.0 L330.1 276.4 L332.6 274.9 L335.1 273.4 L337.6 271.8 L340.1 270.2 L342.6 268.6 L345.1 266.9 L347.6 265.1 L350.1 263.4 L352.6 261.6 L355.1 259.9 L357.6 258.2 L360.1 256.5 L362.6 254.7 L365.1 253.0 L367.6 251.3 L370.2 249.5 L372.7 247.7 L375.2 245.8 L377.7 244.0 L380.2 242.1 L382.7 240.3 L385.2 238.5 L387.7 236.7 L390.2 235.0 L392.7 233.3 L395.2 231.7 L397.7 230.0 L400.2 228.3 L402.7 226.6 L405.2 224.9 L407.7 223.2 L410.2 221.5 L412.7 219.7 L415.2 217.9 L417.7 216.2 L420.2 214.4 L422.7 212.7 L425.2 210.8 L427.7 208.9 L430.2 206.7 L432.7 204.3 L435.2 201.5 L437.7 198.4 L440.3 195.2 L442.8 192.1 L445.3 189.0 L447.8 185.9 L450.3 182.9 L452.8 179.8 L455.3 176.6 L457.8 173.5 L460.3 170.3 L462.8 167.1 L465.3 163.9 L467.8 160.5 L470.3 157.1 L472.8 153.7" fill="none" stroke="#1eeb14" stroke-width="1.6" stroke-linejoin="round"/>
</g>
<path d="M209.59 457.90 L209.59 450.90 M209.59 109.00 L209.59 116.00 M209.59 109.00 L209.59 107.00 M209.59 9.30 L209.59 11.30 M423.81 457.90 L423.81 450.90 M423.81 109.00 L423.81 116.00 M423.81 109.00 L423.81 107.00 M423.81 9.30 L423.81 11.30 M97.57 457.90 L97.57 454.40 M97.57 109.00 L97.57 112.50 M97.57 109.00 L97.57 107.80 M97.57 9.30 L97.57 10.50 M124.34 457.90 L124.34 454.40 M124.34 109.00 L124.34 112.50 M124.34 109.00 L124.34 107.80 M124.34 9.30 L124.34 10.50 M145.10 457.90 L145.10 454.40 M145.10 109.00 L145.10 112.50 M145.10 109.00 L145.10 107.80 M145.10 9.30 L145.10 10.50 M162.06 457.90 L162.06 454.40 M162.06 109.00 L162.06 112.50 M162.06 109.00 L162.06 107.80 M162.06 9.30 L162.06 10.50 M176.40 457.90 L176.40 454.40 M176.40 109.00 L176.40 112.50 M176.40 109.00 L176.40 107.80 M176.40 9.30 L176.40 10.50 M188.83 457.90 L188.83 454.40 M188.83 109.00 L188.83 112.50 M188.83 109.00 L188.83 107.80 M188.83 9.30 L188.83 10.50 M199.78 457.90 L199.78 454.40 M199.78 109.00 L199.78 112.50 M199.78 109.00 L199.78 107.80 M199.78 9.30 L199.78 10.50 M274.07 457.90 L274.07 454.40 M274.07 109.00 L274.07 112.50 M274.07 109.00 L274.07 107.80 M274.07 9.30 L274.07 10.50 M311.80 457.90 L311.80 454.40 M311.80 109.00 L311.80 112.50 M311.80 109.00 L311.80 107.80 M311.80 9.30 L311.80 10.50 M338.56 457.90 L338.56 454.40 M338.56 109.00 L338.56 112.50 M338.56 109.00 L338.56 107.80 M338.56 9.30 L338.56 10.50 M359.32 457.90 L359.32 454.40 M359.32 109.00 L359.32 112.50 M359.32 109.00 L359.32 107.80 M359.32 9.30 L359.32 10.50 M376.29 457.90 L376.29 454.40 M376.29 109.00 L376.29 112.50 M376.29 109.00 L376.29 107.80 M376.29 9.30 L376.29 10.50 M390.63 457.90 L390.63 454.40 M390.63 109.00 L390.63 112.50 M390.63 109.00 L390.63 107.80 M390.63 9.30 L390.63 10.50 M403.05 457.90 L403.05 454.40 M403.05 109.00 L403.05 112.50 M403.05 109.00 L403.05 107.80 M403.05 9.30 L403.05 10.50 M414.01 457.90 L414.01 454.40 M414.01 109.00 L414.01 112.50 M414.01 109.00 L414.01 107.80 M414.01 9.30 L414.01 10.50 M59.85 445.44 L64.10 445.44 M488.30 445.44 L484.05 445.44 M59.85 432.98 L64.10 432.98 M488.30 432.98 L484.05 432.98 M59.85 420.52 L64.10 420.52 M488.30 420.52 L484.05 420.52 M59.85 408.06 L68.35 408.06 M488.30 408.06 L479.80 408.06 M59.85 395.60 L64.10 395.60 M488.30 395.60 L484.05 395.60 M59.85 383.14 L64.10 383.14 M488.30 383.14 L484.05 383.14 M59.85 370.67 L64.10 370.67 M488.30 370.67 L484.05 370.67 M59.85 358.21 L68.35 358.21 M488.30 358.21 L479.80 358.21 M59.85 345.75 L64.10 345.75 M488.30 345.75 L484.05 345.75 M59.85 333.29 L64.10 333.29 M488.30 333.29 L484.05 333.29 M59.85 320.83 L64.10 320.83 M488.30 320.83 L484.05 320.83 M59.85 308.37 L68.35 308.37 M488.30 308.37 L479.80 308.37 M59.85 295.91 L64.10 295.91 M488.30 295.91 L484.05 295.91 M59.85 283.45 L64.10 283.45 M488.30 283.45 L484.05 283.45 M59.85 270.99 L64.10 270.99 M488.30 270.99 L484.05 270.99 M59.85 258.53 L68.35 258.53 M488.30 258.53 L479.80 258.53 M59.85 246.07 L64.10 246.07 M488.30 246.07 L484.05 246.07 M59.85 233.61 L64.10 233.61 M488.30 233.61 L484.05 233.61 M59.85 221.15 L64.10 221.15 M488.30 221.15 L484.05 221.15 M59.85 208.69 L68.35 208.69 M488.30 208.69 L479.80 208.69 M59.85 196.22 L64.10 196.22 M488.30 196.22 L484.05 196.22 M59.85 183.76 L64.10 183.76 M488.30 183.76 L484.05 183.76 M59.85 171.30 L64.10 171.30 M488.30 171.30 L484.05 171.30 M59.85 158.84 L68.35 158.84 M488.30 158.84 L479.80 158.84 M59.85 146.38 L64.10 146.38 M488.30 146.38 L484.05 146.38 M59.85 133.92 L64.10 133.92 M488.30 133.92 L484.05 133.92 M59.85 121.46 L64.10 121.46 M488.30 121.46 L484.05 121.46 M59.85 104.85 L64.10 104.85 M488.30 104.85 L484.05 104.85 M59.85 100.69 L68.35 100.69 M488.30 100.69 L479.80 100.69 M59.85 96.54 L64.10 96.54 M488.30 96.54 L484.05 96.54 M59.85 92.38 L64.10 92.38 M488.30 92.38 L484.05 92.38 M59.85 88.23 L64.10 88.23 M488.30 88.23 L484.05 88.23 M59.85 84.07 L68.35 84.07 M488.30 84.07 L479.80 84.07 M59.85 79.92 L64.10 79.92 M488.30 79.92 L484.05 79.92 M59.85 75.77 L64.10 75.77 M488.30 75.77 L484.05 75.77 M59.85 71.61 L64.10 71.61 M488.30 71.61 L484.05 71.61 M59.85 67.46 L68.35 67.46 M488.30 67.46 L479.80 67.46 M59.85 63.30 L64.10 63.30 M488.30 63.30 L484.05 63.30 M59.85 59.15 L64.10 59.15 M488.30 59.15 L484.05 59.15 M59.85 55.00 L64.10 55.00 M488.30 55.00 L484.05 55.00 M59.85 50.84 L68.35 50.84 M488.30 50.84 L479.80 50.84 M59.85 46.69 L64.10 46.69 M488.30 46.69 L484.05 46.69 M59.85 42.53 L64.10 42.53 M488.30 42.53 L484.05 42.53 M59.85 38.38 L64.10 38.38 M488.30 38.38 L484.05 38.38 M59.85 34.22 L68.35 34.22 M488.30 34.22 L479.80 34.22 M59.85 30.07 L64.10 30.07 M488.30 30.07 L484.05 30.07 M59.85 25.92 L64.10 25.92 M488.30 25.92 L484.05 25.92 M59.85 21.76 L64.10 21.76 M488.30 21.76 L484.05 21.76 M59.85 17.61 L68.35 17.61 M488.30 17.61 L479.80 17.61 M59.85 13.45 L64.10 13.45 M488.30 13.45 L484.05 13.45" stroke="#000" stroke-width="1" fill="none"/>
<rect x="59.85" y="9.30" width="428.45" height="448.60" fill="none" stroke="#000" stroke-width="1.05" stroke-linejoin="round"/>
<path d="M59.85 109.00 H488.30" fill="none" stroke="#000" stroke-width="1.0"/>
<path d="M59.85 9.2 H488.30" fill="none" stroke="#000" stroke-width="1.4" stroke-linecap="square"/>
<path d="M488.45 9.30 V457.90" fill="none" stroke="#000" stroke-width="1.2"/>
<rect x="97.5" y="134.1" width="153.0" height="136.4" fill="#fff" stroke="#939393" stroke-width="1"/>
<path d="M108.0 142.2 L161.9 142.2" fill="none" stroke="#000" stroke-width="1.5" stroke-linejoin="round"/>
<text x="168.6" y="145.2" font-size="11" fill="#000">CART</text>
<path d="M108.0 153.1 L161.9 153.1" fill="none" stroke="#000" stroke-width="1.5" stroke-dasharray="4 4" stroke-linejoin="round"/>
<text x="168.6" y="156.2" font-size="11" fill="#000">Arepo</text>
<path d="M108.0 164.1 L161.9 164.1" fill="none" stroke="#1e82ff" stroke-width="1.5" stroke-dasharray="4 4" stroke-linejoin="round"/>
<text x="168.6" y="167.1" font-size="11" fill="#000">G2-Anarchy</text>
<path d="M108.0 175.0 L161.9 175.0" fill="none" stroke="#1e82ff" stroke-width="1.5" stroke-dasharray="4 1.9 1 2.05" stroke-linejoin="round"/>
<text x="168.6" y="178.1" font-size="11" fill="#000">G3-XArt</text>
<path d="M108.0 185.9 L161.9 185.9" fill="none" stroke="#1e82ff" stroke-width="1.5" stroke-linejoin="round"/>
<text x="168.6" y="189.0" font-size="11" fill="#000">G3-SPHS</text>
<path d="M108.0 196.9 L161.9 196.9" fill="none" stroke="#ffb428" stroke-width="1.5" stroke-linejoin="round"/>
<text x="168.6" y="200.0" font-size="11" fill="#000">G3-Magneticum</text>
<path d="M108.0 207.8 L161.9 207.8" fill="none" stroke="#ffb428" stroke-width="1.5" stroke-dasharray="4 4" stroke-linejoin="round"/>
<text x="168.6" y="210.9" font-size="11" fill="#000">G3-PESPH</text>
<path d="M108.0 218.8 L161.9 218.8" fill="none" stroke="#ff0a0a" stroke-width="1.5" stroke-linejoin="round"/>
<text x="168.6" y="221.9" font-size="11" fill="#000">G3-MUSIC</text>
<path d="M108.0 229.8 L161.9 229.8" fill="none" stroke="#ff0a0a" stroke-width="1.5" stroke-dasharray="4 1.9 1 2.05" stroke-linejoin="round"/>
<text x="168.6" y="232.8" font-size="11" fill="#000">G3-XStd</text>
<path d="M108.0 240.7 L161.9 240.7" fill="none" stroke="#ff0a0a" stroke-width="1.5" stroke-dasharray="4 4" stroke-linejoin="round"/>
<text x="168.6" y="243.8" font-size="11" fill="#000">G3-OWLS</text>
<path d="M108.0 251.7 L161.9 251.7" fill="none" stroke="#ff0a0a" stroke-width="1.5" stroke-dasharray="1 1.77" stroke-linejoin="round"/>
<text x="168.6" y="254.7" font-size="11" fill="#000">G2-X</text>
<path d="M108.0 262.6 L161.9 262.6" fill="none" stroke="#1eeb14" stroke-width="1.5" stroke-linejoin="round"/>
<text x="168.6" y="265.7" font-size="11" fill="#000">Hydra</text>
<text x="55.6" y="22.6" font-size="13.8" text-anchor="end" fill="#000">0.4</text>
<text x="55.6" y="39.2" font-size="13.8" text-anchor="end" fill="#000">0.2</text>
<text x="55.6" y="55.8" font-size="13.8" text-anchor="end" fill="#000">0.0</text>
<text x="55.6" y="72.4" font-size="13.8" text-anchor="end" fill="#000">-0.2</text>
<text x="55.6" y="89.0" font-size="13.8" text-anchor="end" fill="#000">-0.4</text>
<text x="55.6" y="105.6" font-size="13.8" text-anchor="end" fill="#000">-0.6</text>
<text x="55.6" y="117.5" font-size="13.8" text-anchor="end" fill="#000">1.6</text>
<text x="55.6" y="163.8" font-size="13.8" text-anchor="end" fill="#000">1.4</text>
<text x="55.6" y="213.6" font-size="13.8" text-anchor="end" fill="#000">1.2</text>
<text x="55.6" y="263.5" font-size="13.8" text-anchor="end" fill="#000">1.0</text>
<text x="55.6" y="313.3" font-size="13.8" text-anchor="end" fill="#000">0.8</text>
<text x="55.6" y="363.2" font-size="13.8" text-anchor="end" fill="#000">0.6</text>
<text x="55.6" y="413.0" font-size="13.8" text-anchor="end" fill="#000">0.4</text>
<text x="55.6" y="457.5" font-size="13.8" text-anchor="end" fill="#000">0.2</text>
<text x="209.6" y="475.9" font-size="13.8" text-anchor="middle" fill="#000">0.1</text>
<text x="423.8" y="475.9" font-size="13.8" text-anchor="middle" fill="#000">1.0</text>
<text x="274.4" y="491.3" font-size="13.8" text-anchor="middle" fill="#000">R [h<tspan font-size="8.1" dy="-7.6">-1</tspan><tspan dy="7.6" dx="0.5"> Mpc]</tspan></text>
<text transform="translate(21.0 59.7) rotate(-90)" font-size="13.8" text-anchor="middle" fill="#000" letter-spacing="0.15">residuals</text>
<text transform="translate(25.2 280.8) rotate(-90)" font-size="13.8" text-anchor="middle" fill="#000" xml:space="preserve" letter-spacing="0.33">η =  2T/|U|</text>
</svg>
</body></html>
